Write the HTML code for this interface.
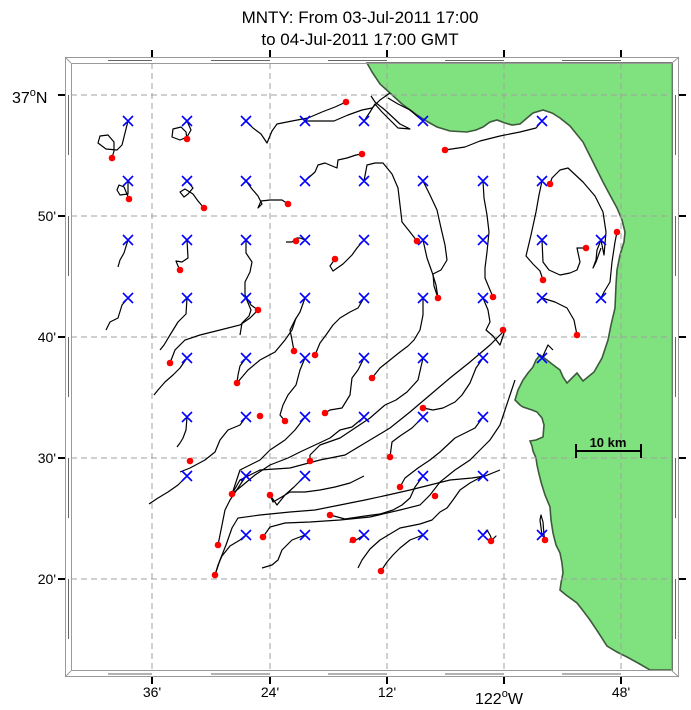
<!DOCTYPE html>
<html><head><meta charset="utf-8"><style>
html,body{margin:0;padding:0;background:#fff;}
svg{display:block;font-family:"Liberation Sans",sans-serif;}
</style></head><body>
<svg width="691" height="710" viewBox="0 0 691 710" xmlns="http://www.w3.org/2000/svg">
<rect width="691" height="710" fill="#fff"/>
<text x="360" y="23" font-size="17" text-anchor="middle">MNTY: From 03-Jul-2011 17:00</text>
<text x="360" y="45" font-size="17" text-anchor="middle">to 04-Jul-2011 17:00 GMT</text>

<!-- land -->
<path d="M367,63 L372,72 L380,84 L390,93 L402,104 L417,115 L428,122 L437,127 L450,131 L467,132 L476,130 L483,127 L490,122 L497,120 L505,123 L512,125 L520,124 L527,118 L533,113 L543,110 L552,113 L560,118 L570,126 L583,142 L592,160 L603,182 L611,197 L617,208 L622,220 L625,232 L624,242 L620,255 L617,270 L616,285 L615,308 L611,325 L608,340 L602,358 L594,372 L583,381 L577,373 L572,378 L567,383 L563,377 L560,370 L552,364 L547,360 L540,355 L536,360 L533,367 L528,373 L523,380 L518,390 L515,400 L520,405 L523,407 L532,410 L537,412 L542,418 L544,425 L543,437 L536,440 L530,441 L532,446 L533,451 L536,458 L537,465 L539,474 L541,482 L545,495 L550,507 L551,520 L553,533 L556,545 L560,553 L562,563 L563,573 L561,583 L560,590 L566,595 L577,603 L584,612 L590,620 L598,632 L607,646 L617,652 L627,657 L638,663 L650,670 L672,670 L672,63 Z" fill="#80e27e" stroke="#3d5a3d" stroke-width="1.6"/>

<!-- grid -->
<g stroke="#a0a0a0" stroke-width="1" stroke-dasharray="6,4">
<line x1="152" y1="63" x2="152" y2="671"/><line x1="270" y1="63" x2="270" y2="671"/>
<line x1="387" y1="63" x2="387" y2="671"/><line x1="504" y1="63" x2="504" y2="671"/>
<line x1="621" y1="63" x2="621" y2="671"/>
<line x1="71" y1="95" x2="672" y2="95"/><line x1="71" y1="216" x2="672" y2="216"/>
<line x1="71" y1="337" x2="672" y2="337"/><line x1="71" y1="458" x2="672" y2="458"/>
<line x1="71" y1="579" x2="672" y2="579"/>
</g>

<!-- frame -->
<g fill="none" stroke="#9a9a9a" stroke-width="1">
<rect x="65.5" y="57.5" width="613" height="619"/>
<rect x="71.5" y="63.5" width="600" height="607"/>
<line x1="65" y1="57" x2="71" y2="63"/><line x1="679" y1="57" x2="672" y2="63"/>
<line x1="65" y1="677" x2="71" y2="671"/><line x1="679" y1="677" x2="672" y2="671"/>
<g stroke="#666">
<line x1="108" y1="60.5" x2="152" y2="60.5"/><line x1="211" y1="60.5" x2="270" y2="60.5"/><line x1="328" y1="60.5" x2="387" y2="60.5"/><line x1="445" y1="60.5" x2="504" y2="60.5"/><line x1="562" y1="60.5" x2="621" y2="60.5"/>
<line x1="108" y1="674" x2="152" y2="674"/><line x1="211" y1="674" x2="270" y2="674"/><line x1="328" y1="674" x2="387" y2="674"/><line x1="445" y1="674" x2="504" y2="674"/><line x1="562" y1="674" x2="621" y2="674"/>
<line x1="68.5" y1="95" x2="68.5" y2="155"/><line x1="68.5" y1="216" x2="68.5" y2="276"/><line x1="68.5" y1="337" x2="68.5" y2="397"/><line x1="68.5" y1="458" x2="68.5" y2="518"/><line x1="68.5" y1="579" x2="68.5" y2="639"/>
<line x1="675.5" y1="95" x2="675.5" y2="155"/><line x1="675.5" y1="216" x2="675.5" y2="276"/><line x1="675.5" y1="337" x2="675.5" y2="397"/><line x1="675.5" y1="458" x2="675.5" y2="518"/><line x1="675.5" y1="579" x2="675.5" y2="639"/>
</g>
</g>
<!-- ticks -->
<g stroke="#000" stroke-width="2">
<line x1="152" y1="50" x2="152" y2="57"/><line x1="270" y1="50" x2="270" y2="57"/><line x1="387" y1="50" x2="387" y2="57"/><line x1="504" y1="50" x2="504" y2="57"/><line x1="621" y1="50" x2="621" y2="57"/>
<line x1="152" y1="677" x2="152" y2="684"/><line x1="270" y1="677" x2="270" y2="684"/><line x1="387" y1="677" x2="387" y2="684"/><line x1="504" y1="677" x2="504" y2="684"/><line x1="621" y1="677" x2="621" y2="684"/>
<line x1="58" y1="95" x2="65" y2="95"/><line x1="58" y1="216" x2="65" y2="216"/><line x1="58" y1="337" x2="65" y2="337"/><line x1="58" y1="458" x2="65" y2="458"/><line x1="58" y1="579" x2="65" y2="579"/>
<line x1="679" y1="95" x2="686" y2="95"/><line x1="679" y1="216" x2="686" y2="216"/><line x1="679" y1="337" x2="686" y2="337"/><line x1="679" y1="458" x2="686" y2="458"/><line x1="679" y1="579" x2="686" y2="579"/>
</g>
<!-- labels -->
<g font-size="14" fill="#000">
<text x="12" y="103" font-size="16">37<tspan font-size="11" dy="-7">o</tspan><tspan dy="7">N</tspan></text>
<text x="56" y="221" text-anchor="end">50'</text>
<text x="56" y="342" text-anchor="end">40'</text>
<text x="56" y="463" text-anchor="end">30'</text>
<text x="56" y="584" text-anchor="end">20'</text>
<text x="152" y="697" text-anchor="middle">36'</text>
<text x="270" y="697" text-anchor="middle">24'</text>
<text x="387" y="697" text-anchor="middle">12'</text>
<text x="475" y="704" font-size="16">122<tspan font-size="11" dy="-7">o</tspan><tspan dy="7">W</tspan></text>
<text x="621" y="697" text-anchor="middle">48'</text>
</g>

<!-- scale bar -->
<g stroke="#000" stroke-width="2">
<line x1="576" y1="451" x2="641" y2="451"/><line x1="576" y1="444" x2="576" y2="458"/><line x1="641" y1="444" x2="641" y2="458"/>
</g>
<text x="608" y="447" font-size="13" font-weight="bold" text-anchor="middle">10 km</text>

<!-- trajectories -->
<g fill="none" stroke="#000" stroke-width="1.2" stroke-linejoin="round">
<polyline points="128,121 125,133 122,145 117,150 106,149 98,143 100,136 108,135 114,142 114,151 112,158"/>
<polyline points="187,121 191,130 187,137 180,140 172,137 173,129 181,127 186,132 187,139"/>
<polyline points="246,121 253,128 261,134 267,143 272,131 277,124 292,121 308,118 322,112 335,107 346,102"/>
<polyline points="305,121 320,121 334,121 348,115 362,110 372,108 380,100 390,93"/>
<polyline points="364,121 370,112 375,104 382,112 390,120 398,128 410,129 400,124 385,110 375,102 371,96"/>
<polyline points="423,121 417,116 410,110 398,104 388,98"/>
<polyline points="542,121 536,128 520,132 500,136 480,141 465,147 445,150"/>
<polyline points="128,181 128,194 120,195 117,190 119,185 124,187 129,199"/>
<polyline points="187,181 193,188 188,194 184,197 180,192 185,189 193,194 198,201 204,208"/>
<polyline points="246,181 252,189 258,196 262,204 258,208 261,201 270,200 282,200 288,204"/>
<polyline points="305,181 315,172 318,165 325,163 337,168 338,160 347,158 356,155 362,154"/>
<polyline points="364,181 367,165 375,163 383,163 392,174 398,188 400,205 402,222 410,232 417,241"/>
<polyline points="423,181 430,195 437,210 441,228 445,245 447,260 441,270 433,274 434,286 438,298"/>
<polyline points="483,181 484,198 487,215 489,232 487,252 485,268 485,278 490,290 493,297"/>
<polyline points="542,181 539,195 536,212 531,235 526,256 533,264 540,271 543,280"/>
<polyline points="601,240 604,255 606,232 603,212 595,196 583,182 568,168 560,170 552,178 550,184"/>
<polyline points="128,240 124,253 120,260 118,267"/>
<polyline points="187,240 188,258 182,262 176,261 178,266 180,270"/>
<polyline points="246,240 246,253 252,262 250,272 245,282 245,295 251,305 258,310"/>
<polyline points="305,240 300,238 297,238 292,242 286,242"/>
<polyline points="364,240 357,248 352,255 343,264 333,271 330,266 335,259"/>
<polyline points="423,240 427,258 432,272 436,285 438,298"/>
<polyline points="542,240 543,262 549,270 560,275 570,273 577,270 580,262 577,248 586,248"/>
<polyline points="601,298 604,292 610,282 612,262 615,242 617,232"/>
<polyline points="128,298 122,305 118,318 110,322 106,330"/>
<polyline points="187,298 186,314 178,322 170,335 164,345 160,350"/>
<polyline points="246,298 251,310 249,316 242,323 240,335"/>
<polyline points="305,298 300,312 295,320 290,330 292,340 294,351"/>
<polyline points="364,298 358,308 350,312 340,318 333,325 326,335 320,343 315,355"/>
<polyline points="423,298 423,315 420,330 414,340 408,346 400,352 390,360 380,368 372,378"/>
<polyline points="483,298 488,310 490,322 486,330 493,336 500,345 505,330"/>
<polyline points="542,298 555,302 567,308 574,320 577,335"/>
<polyline points="187,358 180,368 173,375 165,382 158,390 154,395"/>
<polyline points="246,358 240,366 238,375 237,383"/>
<polyline points="305,358 300,370 296,385 288,395 283,405 280,415 285,421"/>
<polyline points="364,358 358,370 352,378 350,395 342,408 330,410 325,413"/>
<polyline points="423,358 418,380 407,392 396,400 385,405 370,418 355,428 340,438 320,445 310,455 310,461"/>
<polyline points="483,358 476,368 470,383 462,395 455,402 443,408 433,410 423,408"/>
<polyline points="187,417 186,430 183,438 180,443 177,447"/>
<polyline points="246,417 240,425 228,430 220,440 215,452 205,460 190,468 180,472"/>
<polyline points="305,417 295,430 285,440 270,450 260,460 250,465 240,470 232,494"/>
<polyline points="364,417 352,427 340,430 330,438 315,445 300,452 288,458 270,465 255,475 243,485 232,494"/>
<polyline points="423,417 412,428 400,436 392,442 390,457"/>
<polyline points="483,417 475,428 465,433 455,438 440,452 430,460 418,468 405,478 400,487"/>
<polyline points="187,476 178,485 168,492 158,498 149,504"/>
<polyline points="246,476 238,488 230,500 225,510 222,525 220,535 218,545"/>
<polyline points="305,476 294,487 285,495 277,505 270,495"/>
<polyline points="364,476 350,483 335,487 320,490 305,492 290,492 280,498 273,502 270,495"/>
<polyline points="423,476 415,487 410,498 402,505 393,510 380,514 365,516 345,519 330,515"/>
<polyline points="483,476 470,483 460,490 453,500 447,508 440,512 432,520 420,524 410,526 400,528 390,534 380,540 370,549 362,560 358,568"/>
<polyline points="246,535 240,540 230,546 222,556 218,565 215,575"/>
<polyline points="305,535 292,540 282,550 278,560 272,565 262,568"/>
<polyline points="364,535 356,540 350,542 353,540"/>
<polyline points="423,535 410,540 400,548 393,555 387,562 381,571"/>
<polyline points="483,535 487,530 490,535 492,540 496,536 491,541"/>
<polyline points="542,535 540,520 541,515 543,522 544,535 545,540"/>
<polyline points="601,240 597,250 596,260 593,268 596,262 601,248"/>
<polyline points="542,358 548,345 553,350"/>
</g>
<!-- extra long tracks -->
<g fill="none" stroke="#000" stroke-width="1.2">
<polyline points="215,575 220,560 226,545 232,528 238,518 260,515 290,512 315,510 340,505 365,500 388,495 410,490 430,485 450,480 472,478 485,476 500,470"/>
<polyline points="263,537 270,527 285,523 310,522 340,520 370,517 400,510 420,505 430,495 440,482 455,470 470,460 480,450 490,440 500,425 505,410 510,395 515,380"/>
<polyline points="232,494 240,480 260,470 290,468 320,460 345,455 370,440 390,428 410,412 430,395 450,378 470,362 490,345 505,330"/>
<polyline points="170,363 175,350 185,340 200,335 220,330 240,325 250,318 258,310"/>
<polyline points="237,383 248,370 260,360 275,352 285,340 292,330 296,318"/>
</g>

<!-- crosses -->
<g stroke="#0000ff" stroke-width="1.6">
<path d="M123,116l10,10m0,-10l-10,10 M182,116l10,10m0,-10l-10,10 M241,116l10,10m0,-10l-10,10 M300,116l10,10m0,-10l-10,10 M359,116l10,10m0,-10l-10,10 M418,116l10,10m0,-10l-10,10 M537,116l10,10m0,-10l-10,10
M123,176l10,10m0,-10l-10,10 M182,176l10,10m0,-10l-10,10 M241,176l10,10m0,-10l-10,10 M300,176l10,10m0,-10l-10,10 M359,176l10,10m0,-10l-10,10 M418,176l10,10m0,-10l-10,10 M478,176l10,10m0,-10l-10,10 M537,176l10,10m0,-10l-10,10
M123,235l10,10m0,-10l-10,10 M182,235l10,10m0,-10l-10,10 M241,235l10,10m0,-10l-10,10 M300,235l10,10m0,-10l-10,10 M359,235l10,10m0,-10l-10,10 M418,235l10,10m0,-10l-10,10 M478,235l10,10m0,-10l-10,10 M537,235l10,10m0,-10l-10,10 M596,235l10,10m0,-10l-10,10
M123,293l10,10m0,-10l-10,10 M182,293l10,10m0,-10l-10,10 M241,293l10,10m0,-10l-10,10 M300,293l10,10m0,-10l-10,10 M359,293l10,10m0,-10l-10,10 M418,293l10,10m0,-10l-10,10 M478,293l10,10m0,-10l-10,10 M537,293l10,10m0,-10l-10,10 M596,293l10,10m0,-10l-10,10
M182,353l10,10m0,-10l-10,10 M241,353l10,10m0,-10l-10,10 M300,353l10,10m0,-10l-10,10 M359,353l10,10m0,-10l-10,10 M418,353l10,10m0,-10l-10,10 M478,353l10,10m0,-10l-10,10 M537,353l10,10m0,-10l-10,10
M182,412l10,10m0,-10l-10,10 M241,412l10,10m0,-10l-10,10 M300,412l10,10m0,-10l-10,10 M359,412l10,10m0,-10l-10,10 M418,412l10,10m0,-10l-10,10 M478,412l10,10m0,-10l-10,10
M182,471l10,10m0,-10l-10,10 M241,471l10,10m0,-10l-10,10 M300,471l10,10m0,-10l-10,10 M418,471l10,10m0,-10l-10,10 M478,471l10,10m0,-10l-10,10
M241,530l10,10m0,-10l-10,10 M300,530l10,10m0,-10l-10,10 M359,530l10,10m0,-10l-10,10 M418,530l10,10m0,-10l-10,10 M478,530l10,10m0,-10l-10,10 M537,530l10,10m0,-10l-10,10"/>
</g>
<!-- dots -->
<g fill="#ff0000">
<circle cx="346" cy="102" r="3.3"/><circle cx="112" cy="158" r="3.3"/><circle cx="187" cy="139" r="3.3"/><circle cx="362" cy="154" r="3.3"/><circle cx="445" cy="150" r="3.3"/>
<circle cx="129" cy="199" r="3.3"/><circle cx="204" cy="208" r="3.3"/><circle cx="288" cy="204" r="3.3"/><circle cx="550" cy="184" r="3.3"/>
<circle cx="296" cy="241" r="3.3"/><circle cx="335" cy="259" r="3.3"/><circle cx="417" cy="241" r="3.3"/><circle cx="586" cy="248" r="3.3"/><circle cx="617" cy="232" r="3.3"/>
<circle cx="180" cy="270" r="3.3"/><circle cx="543" cy="280" r="3.3"/><circle cx="258" cy="310" r="3.3"/><circle cx="438" cy="298" r="3.3"/><circle cx="493" cy="297" r="3.3"/>
<circle cx="503" cy="330" r="3.3"/><circle cx="577" cy="335" r="3.3"/><circle cx="294" cy="351" r="3.3"/><circle cx="315" cy="355" r="3.3"/><circle cx="170" cy="363" r="3.3"/>
<circle cx="237" cy="383" r="3.3"/><circle cx="372" cy="378" r="3.3"/><circle cx="260" cy="416" r="3.3"/><circle cx="285" cy="421" r="3.3"/><circle cx="325" cy="413" r="3.3"/>
<circle cx="423" cy="408" r="3.3"/><circle cx="190" cy="461" r="3.3"/><circle cx="310" cy="461" r="3.3"/><circle cx="390" cy="457" r="3.3"/><circle cx="232" cy="494" r="3.3"/>
<circle cx="270" cy="495" r="3.3"/><circle cx="400" cy="487" r="3.3"/><circle cx="435" cy="496" r="3.3"/><circle cx="330" cy="515" r="3.3"/><circle cx="218" cy="545" r="3.3"/>
<circle cx="263" cy="537" r="3.3"/><circle cx="353" cy="540" r="3.3"/><circle cx="215" cy="575" r="3.3"/><circle cx="381" cy="571" r="3.3"/><circle cx="491" cy="541" r="3.3"/><circle cx="545" cy="540" r="3.3"/>
</g>
</svg>
</body></html>
